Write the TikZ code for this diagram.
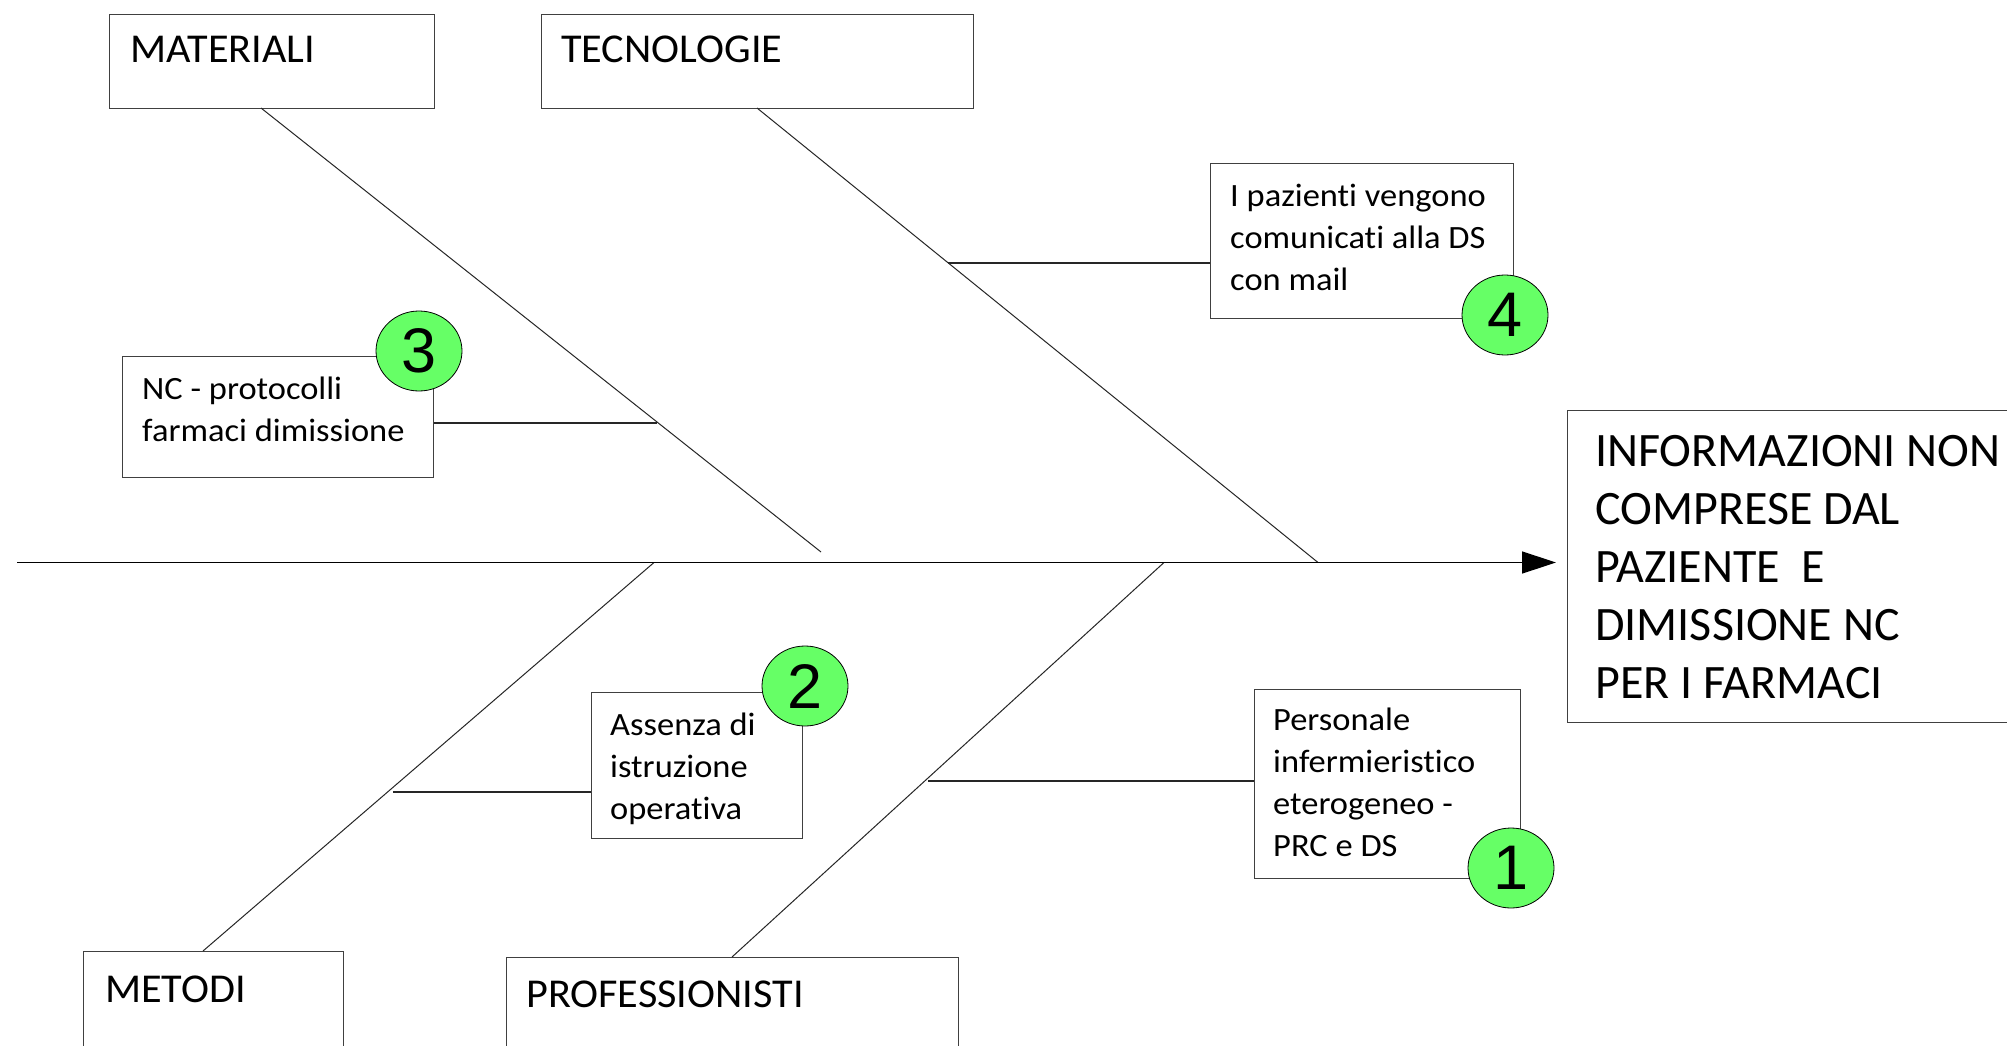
\documentclass[tikz,border=0pt]{standalone}
\usepackage{fontspec}
\setmainfont{Carlito}[Ligatures=NoCommon]
\newfontfamily\causefont{Carlito}[Ligatures=NoCommon,FakeStretch=1.06]
\newfontfamily\catfont{Carlito}[Ligatures=NoCommon,FakeStretch=1.03]
\newfontfamily\digitfont{Liberation Sans}
\usetikzlibrary{shapes.geometric,arrows.meta}
\definecolor{badge}{HTML}{66FF66}
\tikzset{
  catbox/.style={draw=black!75,line width=1.3pt,fill=white,anchor=north west,inner sep=0pt},
  causebox/.style={draw=black!75,line width=1.3pt,fill=white,anchor=north west,inner sep=0pt},
  bone/.style={draw=black!85,line width=1pt},
  twig/.style={draw=black!85,line width=1.2pt},
  spine/.style={draw=black,line width=1.4pt},
  catlabel/.style={anchor=base west,inner sep=0pt,font={\catfont\fontsize{41}{48}\selectfont}},
  causelabel/.style={anchor=base west,inner sep=0pt,font={\causefont\fontsize{32.5}{42}\selectfont}},
  effectlabel/.style={anchor=base west,inner sep=0pt,font={\fontsize{48}{58.2}\selectfont}},
  badgenode/.style={ellipse,draw=black,line width=0.8pt,fill=badge,minimum width=86pt,minimum height=80pt,inner sep=0pt,font={\digitfont\fontsize{63}{63}\selectfont}}
}
\begin{document}
\begin{tikzpicture}[x=1pt,y=-1pt]
\useasboundingbox (0,0) rectangle (2007,1046);
\clip (0,0) rectangle (2007,1046);
\fill[white] (0,0) rectangle (2007,1046);

% category boxes
\node[catbox,minimum width=325pt,minimum height=94pt] (mat) at (109,14) {};
\node[catlabel] (matt) at (130,63) {MATERIALI};
\node[catbox,minimum width=432pt,minimum height=94pt] (tec) at (541,14) {};
\node[catlabel] (tect) at (561,63) {TECNOLOGIE};
\node[catbox,minimum width=260pt,minimum height=140pt] (met) at (83,951) {};
\node[catlabel] (mett) at (105,1002) {METODI};
\node[catbox,minimum width=452pt,minimum height=140pt] (pro) at (506,957) {};
\node[catlabel] (prot) at (526,1007) {PROFESSIONISTI};

% effect box
\node[catbox,minimum width=470pt,minimum height=312pt] (eff) at (1567,410) {};
\node[effectlabel] (efft) at (1595,466) {\vtop{\hbox{INFORMAZIONI NON}\hbox{COMPRESE DAL}\hbox{PAZIENTE\ \ E}\hbox{DIMISSIONE NC}\hbox{PER I FARMACI}}};

% bones
\coordinate (matS) at (261,108);
\coordinate (matE) at (821,552);
\coordinate (tecS) at (757,108);
\coordinate (tecE) at (1318,562.5);
\coordinate (metS) at (203,951);
\coordinate (metE) at (654,562.5);
\coordinate (proS) at (732,957);
\coordinate (proE) at (1164,562.5);
\coordinate (spS) at (17,562.5);
\coordinate (spE) at (1556,562.5);
\draw[bone] (matS) -- (matE);
\draw[bone] (tecS) -- (tecE);
\draw[bone] (metS) -- (metE);
\draw[bone] (proS) -- (proE);
\draw[spine,-{Triangle[length=34pt,width=22pt]}] (spS) -- (spE);

% cause boxes
\node[causebox,minimum width=311pt,minimum height=121pt] (c3box) at (122,356) {};
\node[causelabel] (c3t) at (142,399) {\vtop{\hbox{NC - protocolli}\hbox{farmaci dimissione}}};
\node[causebox,minimum width=303pt,minimum height=155pt] (c4box) at (1210,163) {};
\node[causelabel] (c4t) at (1230,206) {\vtop{\hbox{I pazienti vengono}\hbox{comunicati alla DS}\hbox{con mail}}};
\node[causebox,minimum width=211pt,minimum height=146pt] (c2box) at (591,692) {};
\node[causelabel] (c2t) at (610,735) {\vtop{\hbox{Assenza di}\hbox{istruzione}\hbox{operativa}}};
\node[causebox,minimum width=266pt,minimum height=189pt] (c1box) at (1254,689) {};
\node[causelabel] (c1t) at (1273,730) {\vtop{\hbox{Personale}\hbox{infermieristico}\hbox{eterogeneo -}\hbox{PRC e DS}}};

% twigs
\coordinate (j3) at (657,423);
\coordinate (j4) at (948,263);
\coordinate (j2) at (393,792);
\coordinate (j1) at (928,781);
\draw[twig] (c3box.east |- j3) -- (j3);
\draw[twig] (c4box.west |- j4) -- (j4);
\draw[twig] (c2box.west |- j2) -- (j2);
\draw[twig] (c1box.west |- j1) -- (j1);

% badges
\node[badgenode] (b3) at (419,351) {3};
\node[badgenode] (b4) at (1505,315) {4};
\node[badgenode] (b2) at (805,686) {2};
\node[badgenode] (b1) at (1511,868) {1};
\end{tikzpicture}
\end{document}
